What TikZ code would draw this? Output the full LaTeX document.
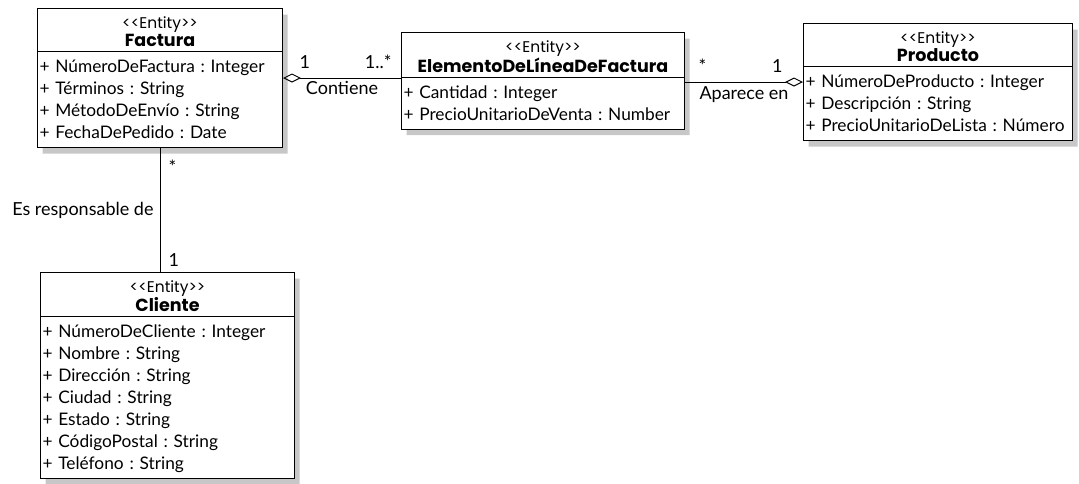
\documentclass[tikz,border=0pt]{standalone}
\usepackage{fontspec}
\setmainfont{Lato}
\newfontfamily\namefont{Poppins}
\usetikzlibrary{positioning,shapes.multipart,shadows,arrows.meta}

\newcommand{\entitytag}{{\namefont\fontsize{15.5}{18}\selectfont
  \textless\kern0pt\textless Entity\textgreater\kern0pt\textgreater}}
\newcommand{\entityhead}[1]{\centering\fontsize{16}{18}\selectfont
  \rule{0pt}{19.5pt}\entitytag\\
  {\namefont\fontsize{17.5}{18}\selectfont\bfseries #1}\rule[-4.5pt]{0pt}{4.5pt}\par}
\newcommand{\firstrow}{\rule{0pt}{20.5pt}}
\newcommand{\lastrow}{\rule[-8.5pt]{0pt}{8.5pt}\par}

\begin{document}
\begin{tikzpicture}[x=1pt,y=-1pt,
  cls/.style={rectangle split,rectangle split parts=2,draw=black,fill=white,
    line width=1pt,inner xsep=2pt,inner ysep=0pt,anchor=north west,
    font=\fontsize{17.3}{22}\selectfont\frenchspacing,
    drop shadow={shadow xshift=5pt,shadow yshift=-6pt,fill=black!22,opacity=1}},
  lbl/.style={font=\fontsize{18}{20}\selectfont,inner sep=1pt},
  agg/.style={{Diamond[open,length=18pt,width=9pt]}-,line width=1pt}]
  \useasboundingbox (0,0) rectangle (1079,483);

  \node[cls,text width=241pt] (factura) at (37,8) {\entityhead{Factura}
    \nodepart{second}\raggedright
    \firstrow+ NúmeroDeFactura : Integer\\
    + Términos : String\\
    + MétodoDeEnvío : String\\
    + FechaDePedido : Date\lastrow};
  \node[cls,text width=279pt] (elemento) at (401,32) {\entityhead{ElementoDeLíneaDeFactura}
    \nodepart{second}\raggedright
    \firstrow+ Cantidad : Integer\\
    + PrecioUnitarioDeVenta : Number\lastrow};
  \node[cls,text width=265pt] (producto) at (803,23) {\entityhead{Producto}
    \nodepart{second}\raggedright
    \firstrow+ NúmeroDeProducto : Integer\\
    + Descripción : String\\
    + PrecioUnitarioDeLista : Número\lastrow};
  \node[cls,text width=250pt] (cliente) at (40,272) {\entityhead{Cliente}
    \nodepart{second}\raggedright
    \firstrow+ NúmeroDeCliente : Integer\\
    + Nombre : String\\
    + Dirección : String\\
    + Ciudad : String\\
    + Estado : String\\
    + CódigoPostal : String\\
    + Teléfono : String\lastrow};

  % associations
  \draw[agg] (factura.east) -- (factura.east -| elemento.west)
    node[lbl,pos=0,above right=8pt and 15pt] (m1) {1}
    node[lbl,pos=1,above left=8pt and 8pt] (m2) {1..*}
    node[lbl,midway,below=2pt] (contiene) {Contiene};
  \draw[agg] (producto.west) -- (producto.west -| elemento.east)
    node[lbl,pos=0,above left=8pt and 19pt] (m3) {1}
    node[lbl,pos=1,above right=8pt and 12pt] (m4) {*}
    node[lbl,midway,below=3pt] (aparece) {Aparece en};
  \draw[line width=1pt] (factura.south) -- (factura.south |- cliente.north)
    node[lbl,pos=0,below right=10pt and 7pt] (m5) {*}
    node[lbl,pos=1,above right=4pt and 7pt] (m6) {1}
    node[lbl,midway,left=5pt] (resp) {Es responsable de};
\end{tikzpicture}
\end{document}
